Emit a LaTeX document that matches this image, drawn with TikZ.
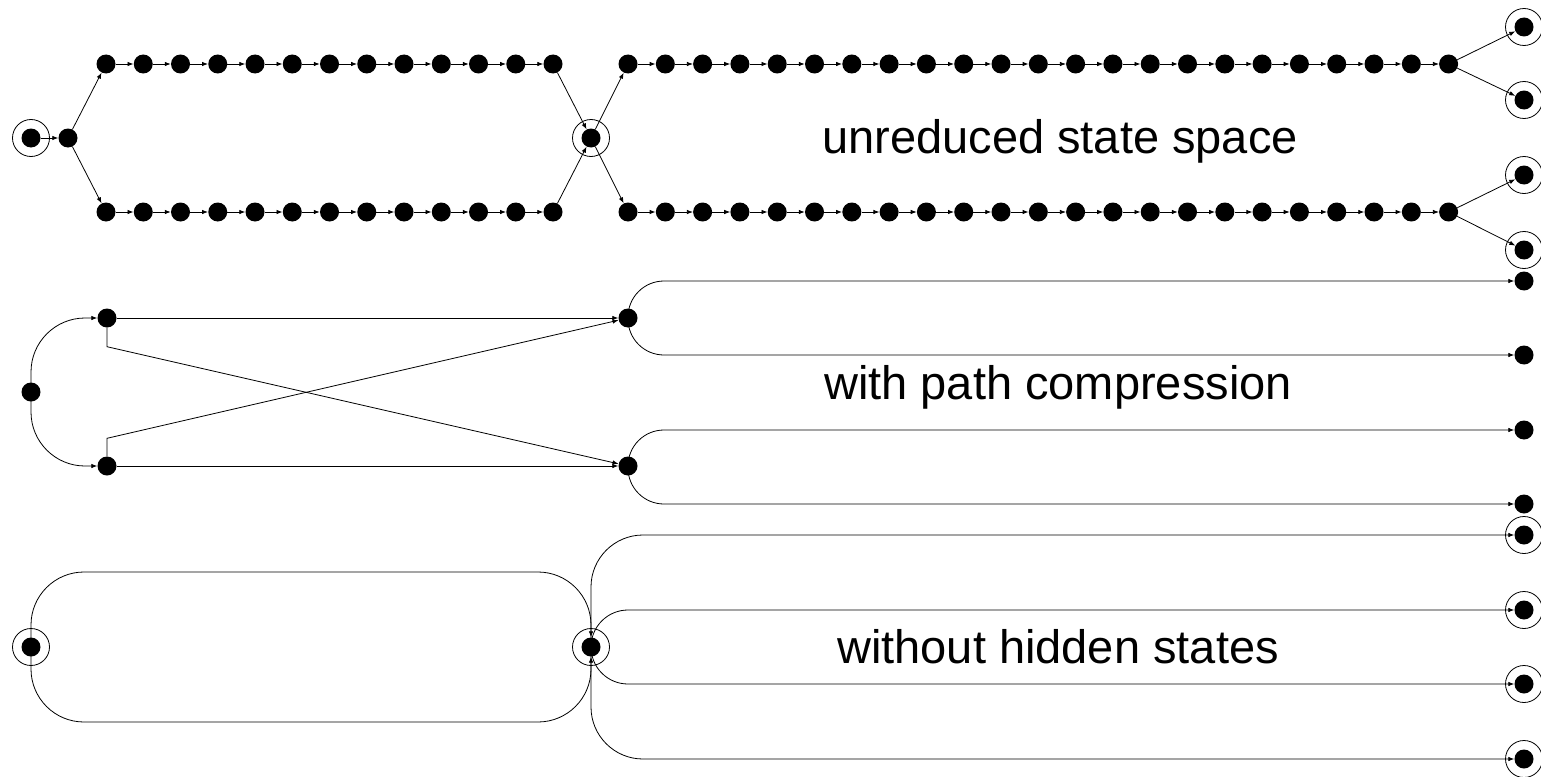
\documentclass[tikz,border=0pt]{standalone}
\usepackage{fontspec}
\setmainfont{Liberation Sans}
\usetikzlibrary{arrows.meta}
\begin{document}
\begin{tikzpicture}[x=1pt,y=-1pt,
  dot/.style={circle,fill=black,inner sep=0pt,minimum size=19pt},
  ring/.style={circle,draw=black,line width=0.8pt,inner sep=0pt,minimum size=37pt},
  arr/.style={line width=0.8pt,-{Latex[length=6pt,width=4.5pt]}},
  lbl/.style={font=\fontsize{47}{50}\selectfont,anchor=base,inner sep=0pt}]
\useasboundingbox (0,0) rectangle (1541,776);

% ---------- unreduced state space ----------
\node[ring] (s0r) at (31,138) {};
\node[dot] (s0) at (31,138) {};
\node[dot] (s1) at (68,138) {};
\foreach \i in {1,...,13} {
  \node[dot] (a\i) at ({106+(\i-1)*37.25},64) {};
  \node[dot] (b\i) at ({106+(\i-1)*37.25},212) {};
}
\node[ring] (mr) at (591,138) {};
\node[dot] (m) at (591,138) {};
\foreach \i in {1,...,23} {
  \node[dot] (c\i) at ({628+(\i-1)*37.3},64) {};
  \node[dot] (d\i) at ({628+(\i-1)*37.3},212) {};
}
\node[ring] (f1r) at (1524,27) {};  \node[dot] (f1) at (1524,27) {};
\node[ring] (f2r) at (1524,100) {}; \node[dot] (f2) at (1524,100) {};
\node[ring] (f3r) at (1524,175) {}; \node[dot] (f3) at (1524,175) {};
\node[ring] (f4r) at (1524,250) {}; \node[dot] (f4) at (1524,250) {};

\draw[arr] (s0) -- (s1);
\draw[arr] (s1) -- (a1);
\draw[arr] (s1) -- (b1);
\foreach \i in {1,...,12} {
  \pgfmathtruncatemacro{\j}{\i+1}
  \draw[arr] (a\i) -- (a\j);
  \draw[arr] (b\i) -- (b\j);
}
\draw[arr] (a13) -- (m);
\draw[arr] (b13) -- (m);
\draw[arr] (m) -- (c1);
\draw[arr] (m) -- (d1);
\foreach \i in {1,...,22} {
  \pgfmathtruncatemacro{\j}{\i+1}
  \draw[arr] (c\i) -- (c\j);
  \draw[arr] (d\i) -- (d\j);
}
\draw[arr] (c23) -- (f1);
\draw[arr] (c23) -- (f2);
\draw[arr] (d23) -- (f3);
\draw[arr] (d23) -- (f4);

\node[lbl] (t1) at (1060,153) {unreduced state space};

% ---------- with path compression ----------
\node[dot] (p0) at (31,392) {};
\node[dot] (p1) at (107,318) {};
\node[dot] (p2) at (107,466) {};
\node[dot] (q1) at (628,318) {};
\node[dot] (q2) at (628,466) {};
\node[dot] (g1) at (1524,281) {};
\node[dot] (g2) at (1524,355) {};
\node[dot] (g3) at (1524,430) {};
\node[dot] (g4) at (1524,504) {};

\draw[arr,rounded corners=54pt] (p0.center) |- (p1);
\draw[arr,rounded corners=54pt] (p0.center) |- (p2);
\draw[arr] (p1) -- (q1);
\draw[arr] (p2) -- (q2);
\draw[arr] (p1.south) -- ++(0,19) -- (q2);
\draw[arr] (p2.north) -- ++(0,-18) -- (q1);
\draw[arr,rounded corners=36pt] (q1.center) |- (g1);
\draw[arr,rounded corners=36pt] (q1.center) |- (g2);
\draw[arr,rounded corners=36pt] (q2.center) |- (g3);
\draw[arr,rounded corners=36pt] (q2.center) |- (g4);

\node[lbl] (t2) at (1058,399) {with path compression};

% ---------- without hidden states ----------
\node[ring] (h0r) at (31,647) {};
\node[dot] (h0) at (31,647) {};
\node[ring] (h1r) at (591,647) {};
\node[dot] (h1) at (591,647) {};
\node[ring] (k1r) at (1524,535) {}; \node[dot] (k1) at (1524,535) {};
\node[ring] (k2r) at (1524,610) {}; \node[dot] (k2) at (1524,610) {};
\node[ring] (k3r) at (1524,684) {}; \node[dot] (k3) at (1524,684) {};
\node[ring] (k4r) at (1524,759) {}; \node[dot] (k4) at (1524,759) {};
\coordinate (ltop) at (311,572);
\coordinate (lbot) at (311,722);

\draw[arr,rounded corners=53pt] (h0.center) |- (ltop) -| (h1.north);
\draw[arr,rounded corners=53pt] (h0.center) |- (lbot) -| (h1.south);
\draw[arr,rounded corners=52pt] (h1.center) |- (k1);
\draw[arr,rounded corners=37pt] (h1.center) |- (k2);
\draw[arr,rounded corners=37pt] (h1.center) |- (k3);
\draw[arr,rounded corners=52pt] (h1.center) |- (k4);

\node[lbl] (t3) at (1058,663) {without hidden states};
\end{tikzpicture}
\end{document}
